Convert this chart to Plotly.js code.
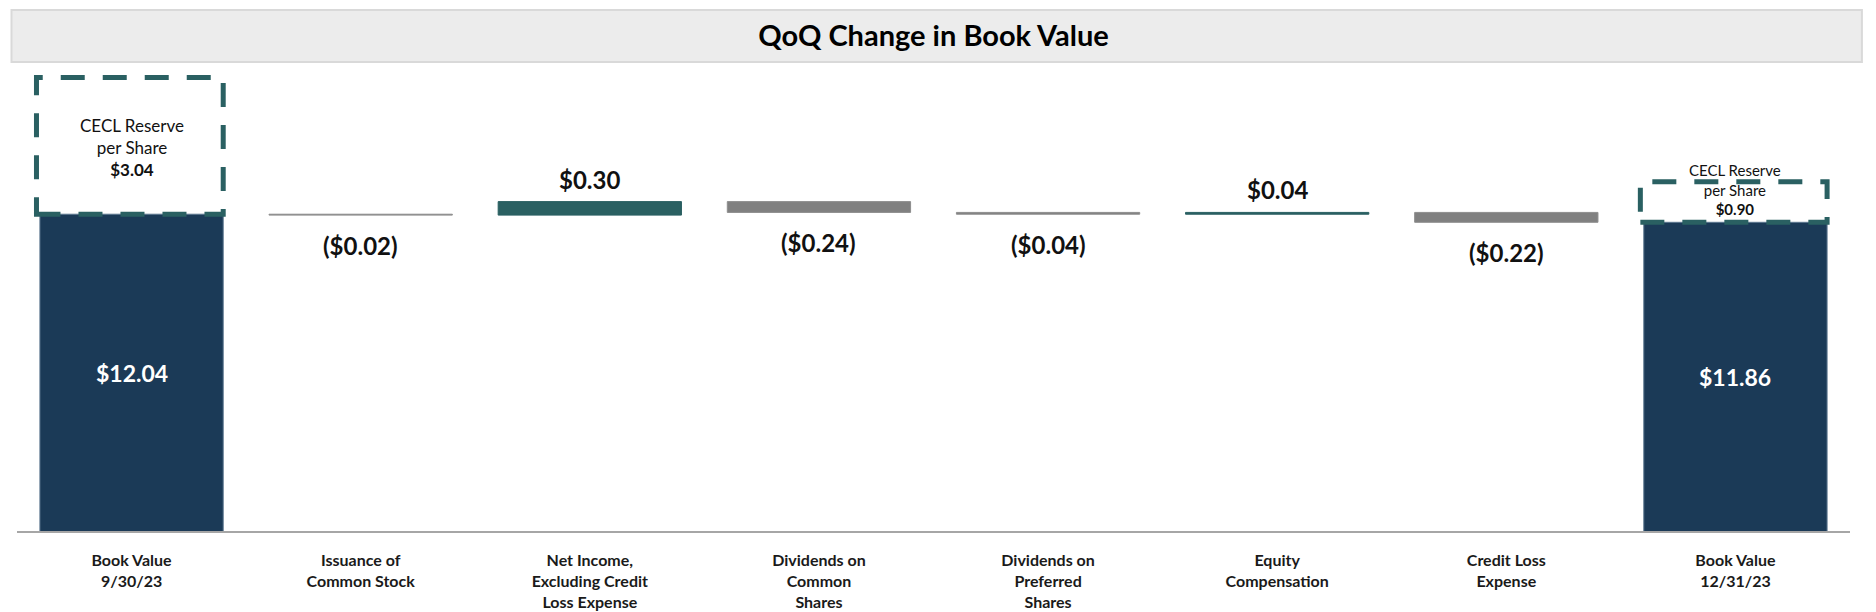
<!DOCTYPE html>
<html>
<head>
<meta charset="utf-8">
<script src="https://cdn.plot.ly/plotly-3.0.1.min.js"></script>
<style>
  html, body { margin: 0; padding: 0; background: #ffffff; }
  #chart { width: 1876px; height: 612px; }
</style>
</head>
<body>
<div id="chart"></div>
<script>
// ---- Data ----
const categories = [
  "Book Value<br>9/30/23",
  "Issuance of<br>Common Stock",
  "Net Income,<br>Excluding Credit<br>Loss Expense",
  "Dividends on<br>Common<br>Shares",
  "Dividends on<br>Preferred<br>Shares",
  "Equity<br>Compensation",
  "Credit Loss<br>Expense",
  "Book Value<br>12/31/23"
];
const values   = [12.04, -0.02, 0.30, -0.24, -0.04, 0.04, -0.22, 11.86];
const measures = ["absolute", "relative", "relative", "relative", "relative", "relative", "relative", "total"];
const ceclReserve = [3.04, null, null, null, null, null, null, 0.90];
const chartTitle = "QoQ Change in Book Value";

// ---- Styling ----
const FONT = "Lato, 'Noto Sans', 'DejaVu Sans', sans-serif";
const TEAL = "#2a6062";
const GRAY = "#808080";
const NAVY = "#1b3a57";
const Y_MIN = 5.0;
const Y_MAX = 15.378;

function fmt(v) {
  const s = "$" + Math.abs(v).toFixed(2);
  return v < 0 ? "(" + s + ")" : s;
}

const annotations = [];
const shapes = [];
let running = 0;
values.forEach((v, i) => {
  const m = measures[i];
  if (m === "absolute" || m === "total") {
    const total = (m === "absolute") ? v : running;
    running = total;
    annotations.push({
      x: i, y: (Y_MIN + total) / 2, xref: "x", yref: "y",
      text: "<b>" + fmt(total) + "</b>", showarrow: false,
      font: { family: FONT, size: 23, color: "#ffffff" },
      yanchor: "middle"
    });
    if (ceclReserve[i] != null) {
      const c = ceclReserve[i];
      shapes.push({
        type: "rect", xref: "x", yref: "y",
        x0: i - 0.415, x1: i + 0.4, y0: total, y1: total + c,
        line: { color: TEAL, width: 5, dash: "24px,18px" },
        fillcolor: "rgba(0,0,0,0)", layer: "above"
      });
      const big = c > 2;
      annotations.push({
        x: i, y: big ? total + c / 2 : total, xref: "x", yref: "y",
        text: "CECL Reserve<br>per Share<br><b>" + fmt(c) + "</b>",
        showarrow: false,
        font: { family: FONT, size: big ? 17 : 15, color: "#111111" },
        yanchor: big ? "middle" : "bottom",
        yshift: big ? -2 : 2
      });
    }
  } else {
    const after = running + v;
    annotations.push({
      x: i, y: after, xref: "x", yref: "y",
      text: "<b>" + fmt(v) + "</b>", showarrow: false,
      font: { family: FONT, size: 24, color: "#111111" },
      yanchor: v >= 0 ? "bottom" : "top",
      yshift: v >= 0 ? 6 : -14
    });
    running = after;
  }
});

// title band
shapes.push({
  type: "rect", xref: "paper", yref: "paper",
  x0: -0.003, x1: 1.0065, y0: 1.0043, y1: 1.1156,
  fillcolor: "#ececec", line: { color: "#d9d9d9", width: 2 }, layer: "below"
});

const trace = {
  type: "waterfall",
  x: categories,
  y: values,
  measure: measures,
  textinfo: "none",
  hoverinfo: "skip",
  connector: { visible: false },
  increasing: { marker: { color: TEAL, line: { color: TEAL, width: 1 } } },
  decreasing: { marker: { color: GRAY, line: { color: "#8e8e8e", width: 1 } } },
  totals: { marker: { color: NAVY, line: { color: "#5d7890", width: 1 } } }
};

const layout = {
  width: 1876, height: 612,
  margin: { l: 17, r: 26, t: 64, b: 81 },
  paper_bgcolor: "#ffffff",
  plot_bgcolor: "rgba(0,0,0,0)",
  showlegend: false,
  bargap: 0.205,
  title: {
    text: "<b>" + chartTitle + "</b>",
    font: { family: FONT, size: 29, color: "#000000" },
    x: 0.5, xref: "paper", y: 1 - 36 / 612, yref: "container", yanchor: "middle"
  },
  xaxis: {
    type: "category",
    showline: true, linecolor: "#a6a6a6", linewidth: 2,
    ticks: "", showgrid: false, zeroline: false,
    tickfont: { family: FONT, size: 16, color: "#1a1a1a", weight: "bold" },
    ticklabelstandoff: 14,
    range: [-0.5, 7.5]
  },
  yaxis: {
    range: [Y_MIN, Y_MAX],
    visible: false, showgrid: false, zeroline: false
  },
  shapes: shapes,
  annotations: annotations
};

Plotly.newPlot("chart", [trace], layout, { displayModeBar: false, staticPlot: true });
</script>
</body>
</html>
